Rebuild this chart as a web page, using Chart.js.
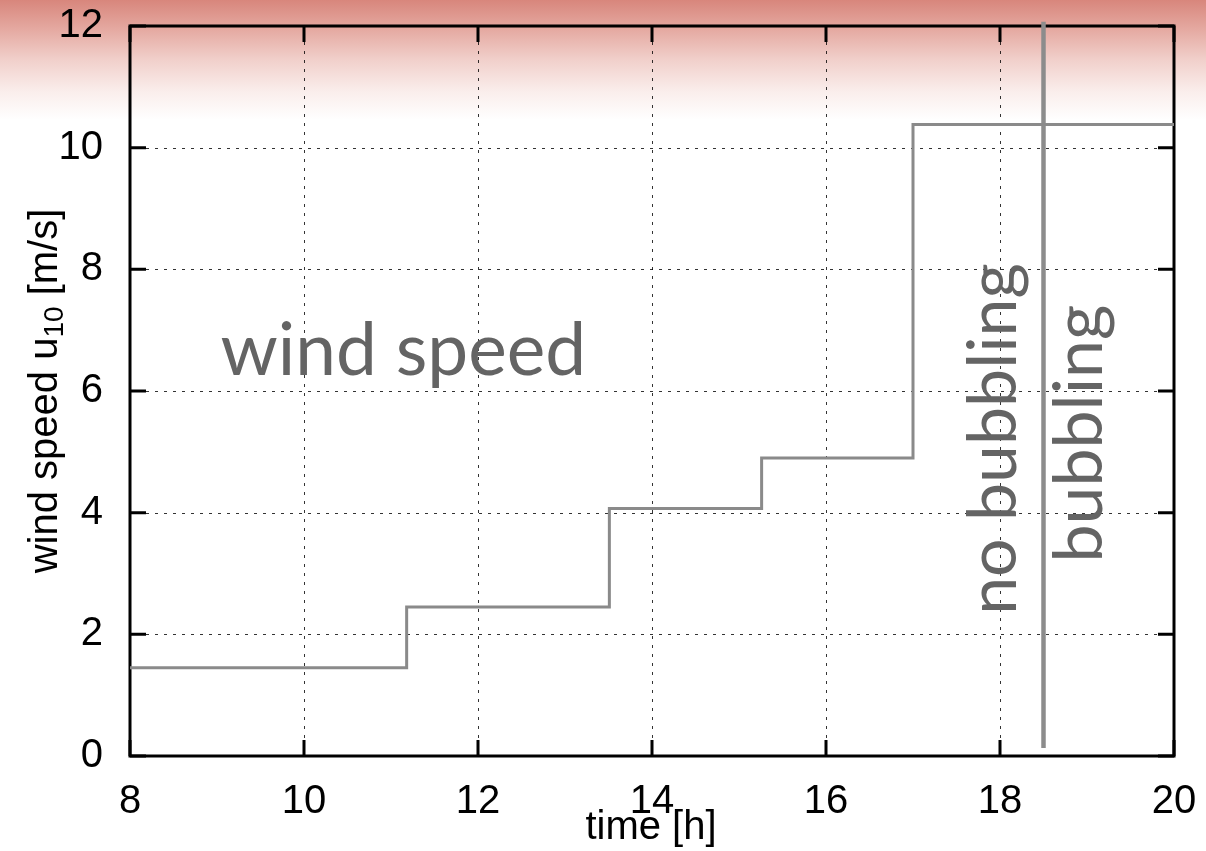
<!DOCTYPE html>
<html>
<head>
<meta charset="utf-8">
<script src="https://cdn.jsdelivr.net/npm/chart.js@4.4.1/dist/chart.umd.min.js"></script>
<style>
  html, body { margin: 0; padding: 0; }
  body {
    width: 1206px; height: 851px; overflow: hidden;
    background: linear-gradient(to bottom,
      rgb(216,134,124) 0px, rgb(229,170,162) 30px, rgb(241,208,203) 60px,
      rgb(250,238,236) 92px, #ffffff 120px);
  }
  #wrap { position: relative; width: 1206px; height: 851px; }
</style>
</head>
<body>
<div id="wrap"><canvas id="chart"></canvas></div>
<script>
// ── Data ─────────────────────────────────────────────────────────────────────

const stepTimes  = [8, 11.18, 13.51, 15.26, 17.0, 20];
const windSpeeds = [1.45, 2.45, 4.07, 4.9, 10.38, 10.38];

const switchTimes = [18.5, 18.5];
const switchSpan  = [0.13, 12.07];

const xTicks = [8, 10, 12, 14, 16, 18, 20];
const yTicks = [0, 2, 4, 6, 8, 10, 12];

const xTitle = 'time [h]';
const yTitleParts = ['wind speed u', '10', ' [m/s]'];
const notes = ['wind speed', 'no bubbling', 'bubbling'];

// ── Style ────────────────────────────────────────────────────────────────────

const TICK_FONT = '40px "Liberation Sans", Arial, sans-serif';
const NOTE_FONT = '73px Lato, "Open Sans", sans-serif';
const NOTE_FONT_V = '68px Lato, "Open Sans", sans-serif';
const NOTE_COLOR = '#646464';
const LINE_COLOR = '#8a8a8a';

// ── Plugins ──────────────────────────────────────────────────────────────────

const framePlugin = {
  id: 'frame',
  beforeDatasetsDraw(chart) {
    const { ctx, chartArea: a, scales: { x, y } } = chart;
    const tick = 16;
    ctx.save();
    // dashed grid, between the inward ticks
    ctx.strokeStyle = 'rgba(0,0,0,0.8)';
    ctx.lineWidth = 1;
    ctx.setLineDash([3, 6]);
    xTicks.slice(1, -1).forEach(v => {
      const px = Math.round(x.getPixelForValue(v)) + 0.5;
      ctx.beginPath(); ctx.moveTo(px, a.top + tick); ctx.lineTo(px, a.bottom - tick); ctx.stroke();
    });
    yTicks.slice(1, -1).forEach(v => {
      const py = Math.round(y.getPixelForValue(v)) + 0.5;
      ctx.beginPath(); ctx.moveTo(a.left + tick, py); ctx.lineTo(a.right - tick, py); ctx.stroke();
    });
    ctx.setLineDash([]);
    // inward ticks on all four sides
    ctx.strokeStyle = '#000';
    ctx.lineWidth = 3;
    xTicks.forEach(v => {
      const px = x.getPixelForValue(v);
      ctx.beginPath();
      ctx.moveTo(px, a.bottom); ctx.lineTo(px, a.bottom - tick);
      ctx.moveTo(px, a.top); ctx.lineTo(px, a.top + tick);
      ctx.stroke();
    });
    yTicks.forEach(v => {
      const py = y.getPixelForValue(v);
      ctx.beginPath();
      ctx.moveTo(a.left, py); ctx.lineTo(a.left + tick, py);
      ctx.moveTo(a.right, py); ctx.lineTo(a.right - tick, py);
      ctx.stroke();
    });
    ctx.strokeRect(a.left, a.top, a.right - a.left, a.bottom - a.top);
    ctx.restore();
  },
};

const textPlugin = {
  id: 'texts',
  afterDraw(chart) {
    const { ctx, chartArea: a, scales: { x, y } } = chart;
    ctx.save();
    ctx.fillStyle = '#000';

    // x title (sits over the tick labels, as in the original)
    ctx.font = TICK_FONT;
    ctx.textAlign = 'center';
    ctx.textBaseline = 'alphabetic';
    ctx.fillText(xTitle, (a.left + a.right) / 2 - 1, 839);

    // y title with subscript
    const subFont = '28px "Liberation Sans", Arial, sans-serif';
    ctx.font = TICK_FONT;
    const w0 = ctx.measureText(yTitleParts[0]).width;
    const w2 = ctx.measureText(yTitleParts[2]).width;
    ctx.font = subFont;
    const w1 = ctx.measureText(yTitleParts[1]).width;
    const total = w0 + w1 + w2;
    ctx.translate(57, (a.top + a.bottom) / 2);
    ctx.rotate(-Math.PI / 2);
    ctx.textAlign = 'left';
    let cx = -total / 2;
    ctx.font = TICK_FONT;
    ctx.fillText(yTitleParts[0], cx, 0); cx += w0;
    ctx.font = subFont;
    ctx.fillText(yTitleParts[1], cx, 6); cx += w1;
    ctx.font = TICK_FONT;
    ctx.fillText(yTitleParts[2], cx, 0);
    ctx.restore();

    // annotations
    ctx.save();
    ctx.fillStyle = NOTE_COLOR;
    ctx.font = NOTE_FONT;
    ctx.textAlign = 'left';
    ctx.textBaseline = 'alphabetic';
    ctx.fillText(notes[0], x.getPixelForValue(9.04), y.getPixelForValue(6.26));
    ctx.font = NOTE_FONT_V;
    [[notes[1], 18.18, 2.32], [notes[2], 19.17, 3.18]].forEach(([t, tx, ty]) => {
      ctx.save();
      ctx.translate(x.getPixelForValue(tx), y.getPixelForValue(ty));
      ctx.rotate(-Math.PI / 2);
      ctx.fillText(t, 0, 0);
      ctx.restore();
    });
    ctx.restore();
  },
};

// keep the plot frame exactly where the padding says
function pinX(s) { s.height = 95; s.paddingLeft = 0; s.paddingRight = 0; }
function pinY(s) { s.width = 130; s.paddingTop = 0; s.paddingBottom = 0; }

// ── Chart ────────────────────────────────────────────────────────────────────

new Chart(document.getElementById('chart').getContext('2d'), {
  type: 'line',
  data: {
    datasets: [
      {
        data: stepTimes.map((t, i) => ({ x: t, y: windSpeeds[i] })),
        stepped: 'before',
        borderColor: LINE_COLOR,
        borderWidth: 3,
        pointRadius: 0,
        fill: false,
      },
      {
        data: switchTimes.map((t, i) => ({ x: t, y: switchSpan[i] })),
        borderColor: '#8c8c8c',
        borderWidth: 4.5,
        pointRadius: 0,
        fill: false,
        clip: false,
      },
    ],
  },
  options: {
    responsive: true,
    maintainAspectRatio: false,
    animation: false,
    layout: { padding: { top: 26, right: 32, left: 0, bottom: 0 } },
    plugins: { legend: { display: false }, tooltip: { enabled: false } },
    scales: {
      x: {
        type: 'linear',
        min: 8, max: 20,
        afterBuildTicks: s => { s.ticks = xTicks.map(v => ({ value: v })); },
        afterFit: pinX,
        grid: { display: false, drawTicks: false },
        border: { display: false },
        ticks: { color: '#000', font: { family: '"Liberation Sans", Arial, sans-serif', size: 40 }, padding: 22, maxRotation: 0 },
      },
      y: {
        type: 'linear',
        min: 0, max: 12,
        afterBuildTicks: s => { s.ticks = yTicks.map(v => ({ value: v })); },
        afterFit: pinY,
        grid: { display: false, drawTicks: false },
        border: { display: false },
        ticks: { color: '#000', font: { family: '"Liberation Sans", Arial, sans-serif', size: 40 }, padding: 27 },
      },
    },
  },
  plugins: [framePlugin, textPlugin],
});
</script>
</body>
</html>
